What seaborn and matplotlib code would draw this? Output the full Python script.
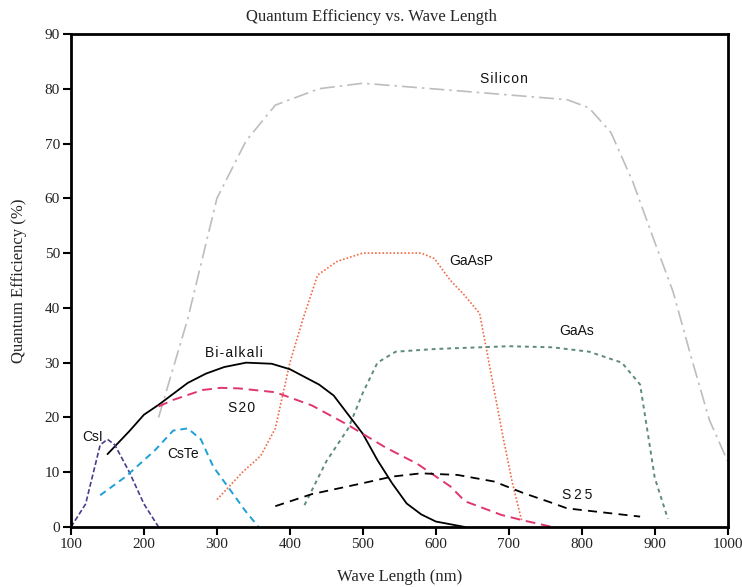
import pandas as pd
import seaborn as sns
import matplotlib.pyplot as plt

# wavelengths (nm) and quantum efficiency (%)
silicon_x = [220, 260, 300, 340, 380, 440, 500, 660, 780, 810, 840, 870, 900, 925, 950, 975, 1000]
silicon_y = [20, 38, 60, 70.5, 77, 80, 81, 79.3, 78, 76.5, 72, 63, 52, 43, 31, 19.5, 12]

gaasp_x = [300, 335, 360, 380, 400, 418, 438, 465, 500, 580, 598, 620, 638, 660, 670, 692, 705, 718]
gaasp_y = [5, 10, 13, 18, 30, 38, 46, 48.5, 50, 50, 49, 45, 42.5, 39, 32, 16.5, 8, 1]

gaas_x = [420, 450, 480, 500, 520, 545, 600, 700, 760, 810, 855, 880, 893, 900, 918]
gaas_y = [4, 12, 18, 24.5, 30, 32, 32.5, 33, 32.8, 32, 30, 26, 15, 9, 1.5]

bialkali_x = [150, 180, 200, 220, 260, 285, 310, 340, 375, 400, 440, 460, 480, 500, 520, 540, 560, 580, 600, 640]
bialkali_y = [13.3, 17.5, 20.5, 22.3, 26.3, 28, 29.2, 30, 29.8, 28.8, 26, 24, 20.5, 17, 12.2, 8, 4.3, 2.3, 1, 0]

s20_x = [220, 240, 280, 305, 330, 380, 430, 480, 530, 575, 620, 640, 690, 720, 760]
s20_y = [22, 23.2, 25, 25.4, 25.3, 24.6, 22.2, 18.6, 14.6, 11.5, 7.4, 4.7, 2.2, 1.2, 0]

s25_x = [380, 430, 500, 540, 580, 630, 680, 720, 755, 780, 880]
s25_y = [3.8, 6, 8, 9.2, 9.8, 9.5, 8.3, 6.2, 4.6, 3.4, 1.9]

csi_x = [100, 120, 140, 150, 160, 180, 200, 220]
csi_y = [0, 4.2, 15, 16, 15, 10, 4.2, 0]

cste_x = [140, 175, 215, 240, 260, 278, 295, 318, 338, 357]
cste_y = [5.8, 9.2, 14, 17.6, 18, 16, 11, 6.8, 3.1, 0]

series = {
    "Silicon": (silicon_x, silicon_y),
    "GaAsP": (gaasp_x, gaasp_y),
    "GaAs": (gaas_x, gaas_y),
    "Bi-alkali": (bialkali_x, bialkali_y),
    "S20": (s20_x, s20_y),
    "S25": (s25_x, s25_y),
    "CsI": (csi_x, csi_y),
    "CsTe": (cste_x, cste_y),
}

styles = {
    "Silicon": dict(color="#bdbdbd", linewidth=1.2, dashes=(9, 3, 1.5, 3)),
    "GaAsP": dict(color="#f26a45", linewidth=1.2, dashes=(1, 1.2)),
    "GaAs": dict(color="#5e8a7c", linewidth=1.4, dashes=(2, 2)),
    "Bi-alkali": dict(color="black", linewidth=1.3, dashes=()),
    "S20": dict(color="#e0356e", linewidth=1.4, dashes=(5, 3)),
    "S25": dict(color="black", linewidth=1.3, dashes=(5, 3.5)),
    "CsI": dict(color="#4b3c8c", linewidth=1.2, dashes=(3, 1.5)),
    "CsTe": dict(color="#1e9fd8", linewidth=1.4, dashes=(3.5, 2.5)),
}

# label positions (data coords) and letter spacing string
labels = {
    "Silicon": (693, 81.8, "\u200a"),
    "GaAsP": (648, 48.6, ""),
    "GaAs": (793, 35.8, ""),
    "Bi-alkali": (323, 31.8, "\u200a"),
    "S20": (334, 21.7, "\u200a"),
    "CsI": (129, 16.4, ""),
    "CsTe": (253, 13.3, ""),
    "S25": (794, 5.8, "\u2009"),
}

rows = []
for name, (xs, ys) in series.items():
    for x, y in zip(xs, ys):
        rows.append({"name": name, "wl": x, "qe": y})
df = pd.DataFrame(rows)

sns.set_theme(style="ticks")
plt.rcParams["font.family"] = ["Liberation Serif", "DejaVu Serif"]

fig = plt.figure(figsize=(7.42, 5.87), dpi=100)
ax = fig.add_axes([0.0957, 0.1022, 0.885, 0.840])

for name in series:
    st = styles[name]
    sub = df[df["name"] == name]
    sns.lineplot(data=sub, x="wl", y="qe", ax=ax, sort=False, estimator=None,
                 color=st["color"], linewidth=st["linewidth"])
    ln = ax.lines[-1]
    if st["dashes"]:
        ln.set_dashes(st["dashes"])

for name, (x, y, sp) in labels.items():
    txt = sp.join(name) if sp else name
    ax.text(x, y, txt, ha="center", va="center", fontsize=10,
            family=["Liberation Sans", "DejaVu Sans"], color="#111111")

ax.set_xlim(100, 1000)
ax.set_ylim(0, 90)
ax.set_xticks(range(100, 1001, 100))
ax.set_yticks(range(0, 91, 10))
for s in ax.spines.values():
    s.set_linewidth(2)
    s.set_color("black")
ax.tick_params(direction="out", length=6, width=1.5, labelsize=11, colors="black",
               labelcolor="#222222", pad=2)

ax.set_xlabel("Wave Length (nm)", fontsize=12, labelpad=13)
ax.set_ylabel("Quantum Efficiency (%)", fontsize=12, labelpad=13)
fig.suptitle("Quantum Efficiency vs. Wave Length", fontsize=12, y=0.984)

fig.savefig("out.png", dpi=100)
